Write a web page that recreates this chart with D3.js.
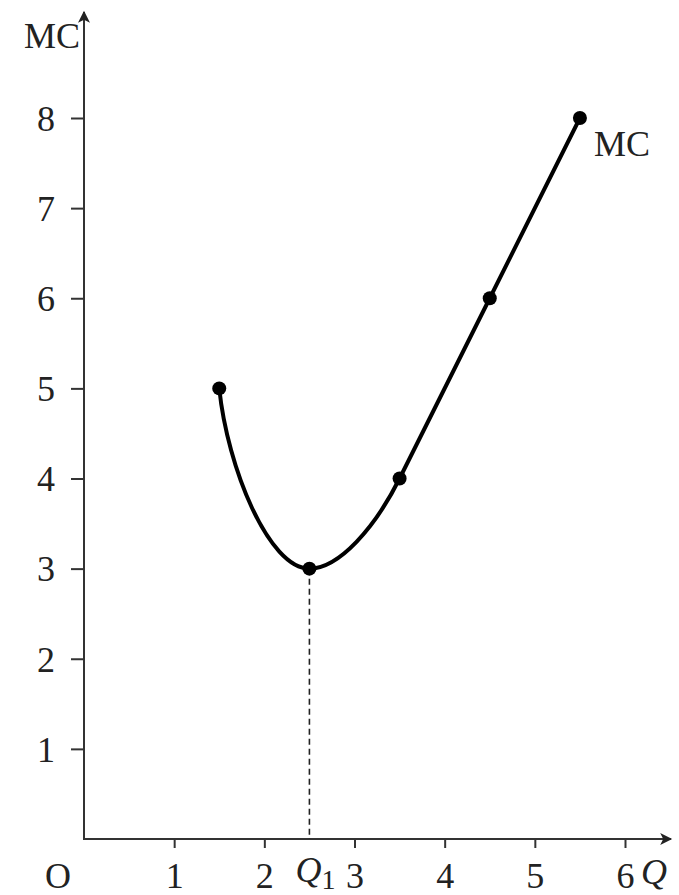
<!DOCTYPE html>
<html>
<head>
<meta charset="utf-8">
<script src="https://cdn.jsdelivr.net/npm/d3@7"></script>
<style>
  body { margin: 0; background: #fff; }
  svg { display: block; }
  text { font-family: 'Liberation Serif', 'Times New Roman', serif; fill: #222; }
</style>
</head>
<body>
<svg id="chart"></svg>
<script>
// values
const qValues = [1.5, 2.5, 3.5, 4.5, 5.5];
const mcValues = [5, 3, 4, 6, 8];
const xTicks = [1, 2, 3, 4, 5, 6];
const yTicks = [1, 2, 3, 4, 5, 6, 7, 8];
const q1 = 2.5;

const w = 679;
const h = 895;
const fontSize = 36;

const svg = d3.select('#chart').attr('width', w).attr('height', h);

const xScale = d3.scaleLinear().domain([0, 6]).range([84, 625]);
const yScale = d3.scaleLinear().domain([0, 8]).range([839, 118]);

const points = qValues.map((q, i) => [xScale(q), yScale(mcValues[i])]);

// arrow heads
const defs = svg.append('defs');
defs.append('marker')
  .attr('id', 'arrow')
  .attr('viewBox', '0 0 10 10')
  .attr('refX', 9).attr('refY', 5)
  .attr('markerWidth', 16).attr('markerHeight', 12)
  .attr('markerUnits', 'userSpaceOnUse')
  .attr('orient', 'auto')
  .append('path')
  .attr('d', 'M0,0 L10,5 L0,10 L2.5,5 Z')
  .attr('fill', '#222');

// y axis
const yAxis = svg.append('g')
  .attr('transform', `translate(${xScale(0)},0)`)
  .call(d3.axisLeft(yScale).tickValues(yTicks).tickSize(13).tickPadding(16).tickFormat(d3.format('d')));
yAxis.select('.domain').remove();
yAxis.selectAll('.tick line').attr('stroke', '#333').attr('stroke-width', 2);
yAxis.selectAll('.tick text')
  .attr('font-size', fontSize)
  .attr('dy', '0.34em')
  .style('font-family', "'Liberation Serif', serif")
  .attr('fill', '#222');

// x axis
const xAxis = svg.append('g')
  .attr('transform', `translate(0,${yScale(0)})`)
  .call(d3.axisBottom(xScale).tickValues(xTicks).tickSize(9).tickPadding(18).tickFormat(d3.format('d')));
xAxis.select('.domain').remove();
xAxis.selectAll('.tick line').attr('stroke', '#333').attr('stroke-width', 2);
xAxis.selectAll('.tick text')
  .attr('font-size', fontSize)
  .attr('dy', '0.6em')
  .style('font-family', "'Liberation Serif', serif")
  .attr('fill', '#222');

// axis lines with arrows
svg.append('line')
  .attr('x1', xScale(0)).attr('y1', yScale(0) + 1)
  .attr('x2', xScale(0)).attr('y2', 12)
  .attr('stroke', '#333').attr('stroke-width', 2)
  .attr('marker-end', 'url(#arrow)');
svg.append('line')
  .attr('x1', xScale(0) - 1).attr('y1', yScale(0))
  .attr('x2', 671).attr('y2', yScale(0))
  .attr('stroke', '#333').attr('stroke-width', 2)
  .attr('marker-end', 'url(#arrow)');

// dashed drop line at Q1
svg.append('line')
  .attr('x1', xScale(q1)).attr('y1', yScale(3))
  .attr('x2', xScale(q1)).attr('y2', yScale(0))
  .attr('stroke', '#222').attr('stroke-width', 1.6)
  .attr('stroke-dasharray', '6,4');

// MC curve: bowed part down to the minimum and up to the 3rd point, then straight
const [p0, p1, p2, p3, p4] = points;
const slope = (p4[1] - p2[1]) / (p4[0] - p2[0]);
const curve = d3.path();
curve.moveTo(p0[0], p0[1]);
curve.bezierCurveTo(
  p0[0] + 0.09 * (p1[0] - p0[0]), p0[1] + 0.44 * (p1[1] - p0[1]),
  p0[0] + 0.55 * (p1[0] - p0[0]), p1[1],
  p1[0], p1[1]);
const hx = 0.27 * (p2[0] - p1[0]);
curve.bezierCurveTo(
  p1[0] + 0.33 * (p2[0] - p1[0]), p1[1],
  p2[0] - hx, p2[1] - hx * slope,
  p2[0], p2[1]);
curve.lineTo(p3[0], p3[1]);
curve.lineTo(p4[0], p4[1]);

svg.append('path')
  .attr('d', curve.toString())
  .attr('fill', 'none')
  .attr('stroke', '#000')
  .attr('stroke-width', 4)
  .attr('stroke-linecap', 'round');

svg.selectAll('.pt')
  .data(points)
  .enter()
  .append('circle')
  .attr('class', 'pt')
  .attr('cx', d => d[0])
  .attr('cy', d => d[1])
  .attr('r', 7)
  .attr('fill', '#000');

// labels
svg.append('text')
  .attr('x', 80).attr('y', 48)
  .attr('text-anchor', 'end')
  .attr('font-size', fontSize)
  .text('MC');

svg.append('text')
  .attr('x', 594).attr('y', 156)
  .attr('font-size', fontSize)
  .text('MC');

svg.append('text')
  .attr('x', 58).attr('y', 888)
  .attr('text-anchor', 'middle')
  .attr('font-size', fontSize)
  .text('O');

svg.append('text')
  .attr('x', 641).attr('y', 884)
  .attr('font-size', fontSize)
  .attr('font-style', 'italic')
  .text('Q');

const q1Label = svg.append('text')
  .attr('x', xScale(q1) - 14).attr('y', 882)
  .attr('font-size', fontSize)
  .attr('font-style', 'italic');
q1Label.append('tspan').text('Q');
q1Label.append('tspan')
  .attr('font-style', 'normal')
  .attr('font-size', fontSize * 0.78)
  .attr('dy', 7)
  .text('1');
</script>
</body>
</html>
